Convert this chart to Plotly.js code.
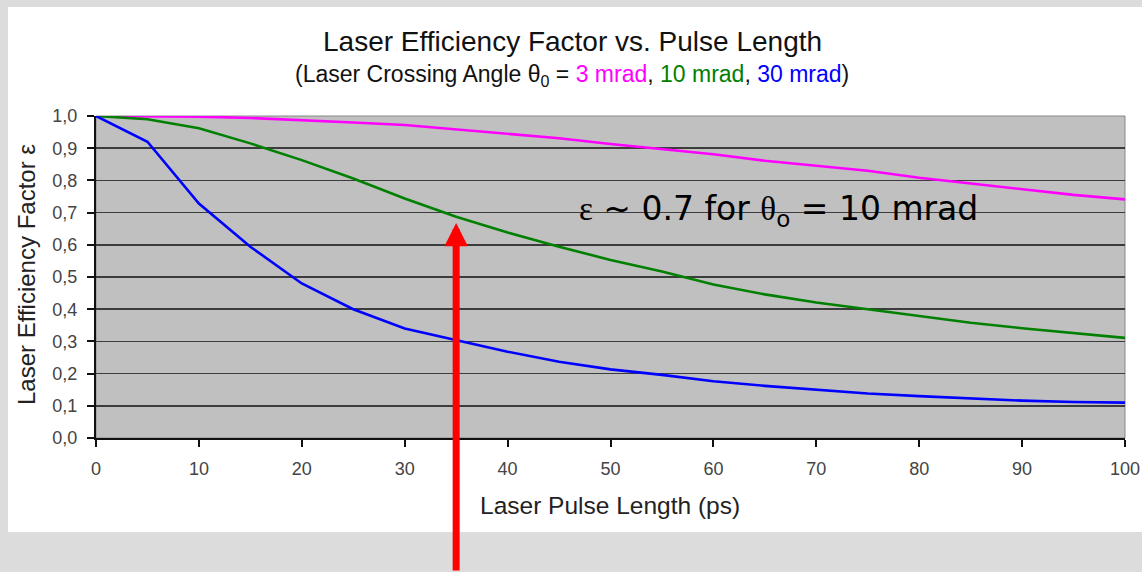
<!DOCTYPE html>
<html>
<head>
<meta charset="utf-8">
<script src="https://cdn.plot.ly/plotly-3.0.1.min.js"></script>
<style>html,body{margin:0;padding:0;background:#dcdcdc;}#chart{width:1142px;height:572px;}</style>
</head>
<body>
<div id="chart"></div>
<script>
const pulseLength = [0,5,10,15,20,25,30,35,40,45,50,55,60,65,70,75,80,85,90,95,100];
const eff3mrad  = [1.0,1.0,0.998,0.994,0.988,0.980,0.972,0.959,0.944,0.931,0.913,0.897,0.881,0.861,0.845,0.830,0.808,0.791,0.772,0.755,0.741];
const eff10mrad = [1.0,0.990,0.962,0.915,0.863,0.806,0.744,0.687,0.638,0.594,0.553,0.517,0.477,0.446,0.421,0.400,0.378,0.358,0.341,0.325,0.311];
const eff30mrad = [1.0,0.920,0.728,0.594,0.480,0.400,0.340,0.304,0.268,0.237,0.213,0.196,0.176,0.162,0.150,0.138,0.130,0.123,0.116,0.112,0.110];
const seriesNames = ['3 mrad','10 mrad','30 mrad'];
const seriesColors = ['#ff00ff','#008000','#0000ff'];
const yTicks = [0,0.1,0.2,0.3,0.4,0.5,0.6,0.7,0.8,0.9,1.0];
const xTicks = [0,10,20,30,40,50,60,70,80,90,100];

const traces = [eff3mrad, eff10mrad, eff30mrad].map((ys,i)=>({
  x: pulseLength, y: ys, type:'scatter', mode:'lines', name: seriesNames[i],
  line:{color: seriesColors[i], width:2.6}, cliponaxis:false
}));

const arial = 'Liberation Sans, Arial, sans-serif';
const layout = {
  width:1142, height:572,
  margin:{l:96, r:17, t:116, b:134},
  paper_bgcolor:'#dcdcdc',
  plot_bgcolor:'rgba(0,0,0,0)',
  showlegend:false,
  separators:', ',
  font:{family:arial, color:'#333'},
  xaxis:{range:[0,100], tickvals:xTicks, ticks:'outside', ticklen:7, tickwidth:2, tickcolor:'#111',
         showline:true, linecolor:'#111', linewidth:2, showgrid:false, zeroline:false,
         ticklabelstandoff:6, tickfont:{size:18, color:'#444'}, fixedrange:true},
  yaxis:{range:[0,1], tickvals:yTicks, tickformat:'.1f', ticks:'outside', ticklen:7, tickwidth:2, tickcolor:'#111',
         showline:true, linecolor:'#111', linewidth:2, showgrid:true, gridcolor:'#3c3c3c', gridwidth:1.5,
         ticklabelstandoff:6, zeroline:false, tickfont:{size:18, color:'#444'}, fixedrange:true},
  shapes:[
    {type:'rect', xref:'paper', yref:'paper', x0:(8-96)/1029, x1:(1150-96)/1029, y0:(438-532)/322, y1:(438-7)/322,
     fillcolor:'#ffffff', line:{width:0}, layer:'below'},
    {type:'rect', xref:'paper', yref:'paper', x0:0, x1:1, y0:0, y1:1,
     fillcolor:'#c0c0c0', line:{color:'#888', width:1}, layer:'below'}
  ],
  annotations:[
    {xref:'paper', yref:'paper', x:0.4626, y:(438-42)/322, showarrow:false, xanchor:'center', yanchor:'middle',
     text:'Laser Efficiency Factor vs. Pulse Length', font:{size:28, color:'#111', family:arial}},
    {xref:'paper', yref:'paper', x:0.4626, y:(438-75)/322, showarrow:false, xanchor:'center', yanchor:'middle',
     text:'(Laser Crossing Angle θ<sub>0</sub> = <span style="color:#ff00ff">3 mrad</span>, <span style="color:#008000">10 mrad</span>, <span style="color:#0000ff">30 mrad</span>)',
     font:{size:23, color:'#111', family:arial}},
    {xref:'paper', yref:'paper', x:(26-96)/1029, y:(438-275)/322, showarrow:false, xanchor:'center', yanchor:'middle',
     textangle:-90, text:'Laser Efficiency Factor ε', font:{size:24, color:'#222', family:arial}},
    {xref:'paper', yref:'paper', x:(610-96)/1029, y:(438-505)/322, showarrow:false, xanchor:'center', yanchor:'middle',
     text:'Laser Pulse Length (ps)', font:{size:24.5, color:'#222', family:arial}},
    {xref:'x', yref:'y', x:66.3, y:0.705, showarrow:false, xanchor:'center', yanchor:'middle',
     text:'<span style="font-family:Liberation Serif">ε</span> ~ 0.7 for <span style="font-family:Liberation Serif">θ</span><sub>o</sub> = 10 mrad',
     font:{size:33, color:'#000', family:'DejaVu Sans, sans-serif'}},
    {xref:'x', yref:'y', x:35, y:0.668, showarrow:true, ax:0, ay:460, axref:'pixel', ayref:'pixel',
     arrowhead:2, arrowsize:0.67, arrowwidth:7, arrowcolor:'#ff0000', text:'', standoff:0}
  ]
};
Plotly.newPlot('chart', traces, layout, {staticPlot:true, displayModeBar:false});
</script>
</body>
</html>
